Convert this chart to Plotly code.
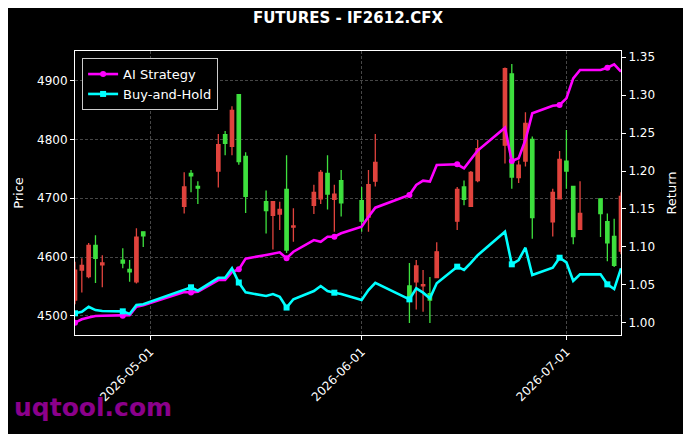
import plotly.graph_objects as go

dates = ["2026-04-20", "2026-04-21", "2026-04-22", "2026-04-23", "2026-04-24",
         "2026-04-27", "2026-04-28", "2026-04-29", "2026-04-30",
         "2026-05-06", "2026-05-07", "2026-05-08",
         "2026-05-11", "2026-05-12", "2026-05-13", "2026-05-14", "2026-05-15",
         "2026-05-18", "2026-05-19", "2026-05-20", "2026-05-21", "2026-05-22",
         "2026-05-25", "2026-05-26", "2026-05-27", "2026-05-28", "2026-05-29",
         "2026-06-01", "2026-06-02", "2026-06-03",
         "2026-06-08", "2026-06-09", "2026-06-10", "2026-06-11", "2026-06-12",
         "2026-06-15", "2026-06-16", "2026-06-17", "2026-06-18",
         "2026-06-22", "2026-06-23", "2026-06-24", "2026-06-25", "2026-06-26",
         "2026-06-29", "2026-06-30", "2026-07-01", "2026-07-02", "2026-07-03",
         "2026-07-06", "2026-07-07", "2026-07-08", "2026-07-09"]

open_ = [4527, 4578, 4567, 4620, 4587,
         4595, 4579, 4558, 4643,
         4686, 4742, 4720,
         4746, 4808, 4788, 4876, 4771,
         4694, 4671, 4673, 4715, 4651,
         4688, 4699, 4742, 4698, 4730,
         4696, 4668, 4729,
         4551, 4558, 4551, 4538, 4565,
         4661, 4719, 4686, 4730,
         4790, 4911, 4735, 4763, 4800,
         4660, 4699, 4763, 4720, 4647,
         4699, 4660, 4635, 4610]
high = [4592, 4598, 4624, 4637, 4603,
        4615, 4595, 4649, 4644,
        4744, 4748, 4729,
        4809, 4814, 4856, 4877, 4778,
        4713, 4695, 4694, 4773, 4683,
        4723, 4748, 4773, 4723, 4748,
        4719, 4748, 4809,
        4590, 4595, 4578, 4566, 4625,
        4719, 4730, 4746, 4799,
        4922, 4928, 4764, 4846, 4805,
        4716, 4780, 4816, 4720, 4729,
        4699, 4674, 4665, 4710]
low = [4520, 4540, 4564, 4556, 4549,
       4581, 4558, 4555, 4617,
       4674, 4710, 4690,
       4718, 4773, 4773, 4757, 4675,
       4640, 4613, 4646, 4607, 4626,
       4673, 4690, 4681, 4643, 4669,
       4643, 4643, 4720,
       4488, 4511, 4507, 4488, 4564,
       4646, 4688, 4685, 4727,
       4759, 4716, 4726, 4754, 4631,
       4635, 4698, 4716, 4622, 4646,
       4634, 4593, 4583, 4605]
close = [4578, 4586, 4620, 4598, 4590,
         4590, 4575, 4634, 4636,
         4719, 4738, 4717,
         4791, 4793, 4849, 4762, 4703,
         4679, 4694, 4681, 4612, 4653,
         4710, 4744, 4707, 4707, 4692,
         4661, 4723, 4761,
         4533, 4585, 4553, 4527, 4609,
         4715, 4698, 4744, 4784,
         4920, 4736, 4756, 4827, 4667,
         4710, 4766, 4746, 4635, 4674,
         4674, 4624, 4586, 4703]

ai_strategy = [1.000, 1.0045, 1.007, 1.0088, 1.0092,
               1.0092, 1.010, 1.021, 1.023,
               1.0405, 1.040, 1.041,
               1.0563, 1.0563, 1.0669, 1.0704, 1.0845,
               1.0893, 1.0915, 1.0928, 1.0849, 1.0936,
               1.109, 1.1068, 1.1134, 1.1134, 1.1179,
               1.1266, 1.1398, 1.1517,
               1.1684, 1.1816, 1.1873, 1.186, 1.208,
               1.2089, 1.2036, 1.215, 1.227,
               1.2572, 1.2132, 1.2168, 1.241, 1.2761,
               1.2862, 1.2871, 1.2959, 1.3223, 1.3332,
               1.3332, 1.3363, 1.3407, 1.331]
buy_and_hold = [1.0124, 1.0145, 1.0211, 1.0167, 1.0154,
                1.015, 1.0115, 1.0233, 1.0243,
                1.0431, 1.0467, 1.0422,
                1.0592, 1.0592, 1.0717, 1.053, 1.040,
                1.0352, 1.0378, 1.0343, 1.020, 1.031,
                1.0418, 1.0484, 1.0418, 1.0396, 1.0378,
                1.030, 1.0431, 1.0527,
                1.0308, 1.0453, 1.0396, 1.0322, 1.052,
                1.0739, 1.0695, 1.079, 1.089,
                1.12, 1.077, 1.0827, 1.0989, 1.0629,
                1.0725, 1.0857, 1.0796, 1.055, 1.0638,
                1.0638, 1.0506, 1.0444, 1.0717]

price_ticks = [4500, 4600, 4700, 4800, 4900]
return_ticks = [1.00, 1.05, 1.10, 1.15, 1.20, 1.25, 1.30, 1.35]
date_ticks = ["2026-05-01", "2026-06-01", "2026-07-01"]

RED = "#e0433d"
GREEN = "#3ee03e"
MAG = "#ff00ff"
CYAN = "#00ffff"
FONT = "DejaVu Sans"
MARK_EVERY = 5

# the page body adds an 8px offset, so the figure is sized to fit after it
FIG_W, FIG_H = 683, 426

fig = go.Figure()
fig.add_trace(go.Candlestick(
    x=dates, open=open_, high=high, low=low, close=close,
    increasing=dict(line=dict(color=RED, width=1.3), fillcolor=RED),
    decreasing=dict(line=dict(color=GREEN, width=1.3), fillcolor=GREEN),
    showlegend=False, yaxis="y", whiskerwidth=0,
))

series = [("AI Strategy", ai_strategy, MAG, "circle"),
          ("Buy-and-Hold", buy_and_hold, CYAN, "square")]
for name, vals, col, sym in series:
    fig.add_trace(go.Scatter(x=dates, y=vals, mode="lines", yaxis="y2",
                             line=dict(color=col, width=2.6),
                             showlegend=False, legendgroup=name))
    fig.add_trace(go.Scatter(x=dates[::MARK_EVERY], y=vals[::MARK_EVERY],
                             mode="markers", yaxis="y2",
                             marker=dict(color=col, size=6, symbol=sym),
                             showlegend=False, legendgroup=name))
    fig.add_trace(go.Scatter(x=[None], y=[None], mode="lines+markers", yaxis="y2",
                             name=name, legendgroup=name,
                             line=dict(color=col, width=2.6),
                             marker=dict(color=col, size=6, symbol=sym)))

axis_common = dict(showline=True, linecolor="white", linewidth=1,
                   ticks="outside", ticklen=4, tickcolor="white", tickwidth=1,
                   tickfont=dict(family=FONT, size=12, color="white"),
                   zeroline=False, automargin=False)

fig.update_layout(
    width=FIG_W, height=FIG_H,
    paper_bgcolor="black", plot_bgcolor="black",
    margin=dict(l=67, r=70, t=43, b=99, autoexpand=False),
    font=dict(family=FONT, color="white", size=12),
    title=dict(text="<b>FUTURES - IF2612.CFX</b>", x=0.5, xref="paper",
               xanchor="center", y=1 - 10 / FIG_H, yanchor="middle",
               font=dict(family=FONT, size=15, color="white")),
    boxgap=0.3,
    xaxis=dict(type="date", range=["2026-04-20", "2026-07-09"],
               tickvals=date_ticks, ticktext=date_ticks, tickangle=-45,
               showgrid=True, gridcolor="#464646", griddash="3px,2px", gridwidth=0.7,
               mirror=True, rangeslider=dict(visible=False), **axis_common),
    yaxis=dict(range=[4467.7, 4950], tickvals=price_ticks,
               showgrid=True, gridcolor="#464646", griddash="3px,2px", gridwidth=0.7,
               mirror=True,
               title=dict(text="Price", font=dict(family=FONT, size=13, color="white"),
                          standoff=10),
               **axis_common),
    yaxis2=dict(overlaying="y", side="right", range=[0.9838, 1.3583],
                tickvals=return_ticks, tickformat=".2f", showgrid=False,
                title=dict(text="Return", font=dict(family=FONT, size=13, color="white"),
                           standoff=12),
                **axis_common),
    legend=dict(x=0.013, y=0.975, xanchor="left", yanchor="top",
                bgcolor="black", bordercolor="#cccccc", borderwidth=1,
                font=dict(family=FONT, size=13, color="white"),
                tracegroupgap=0, itemwidth=30),
    annotations=[dict(text="<b>uqtool.com</b>", xref="paper", yref="paper",
                      x=(12 - 75) / 546, y=-(407 - 335) / 284,
                      xanchor="left", yanchor="middle", showarrow=False,
                      font=dict(family=FONT, size=25, color="#8b008b"))],
)

fig.write_html("out.html")
